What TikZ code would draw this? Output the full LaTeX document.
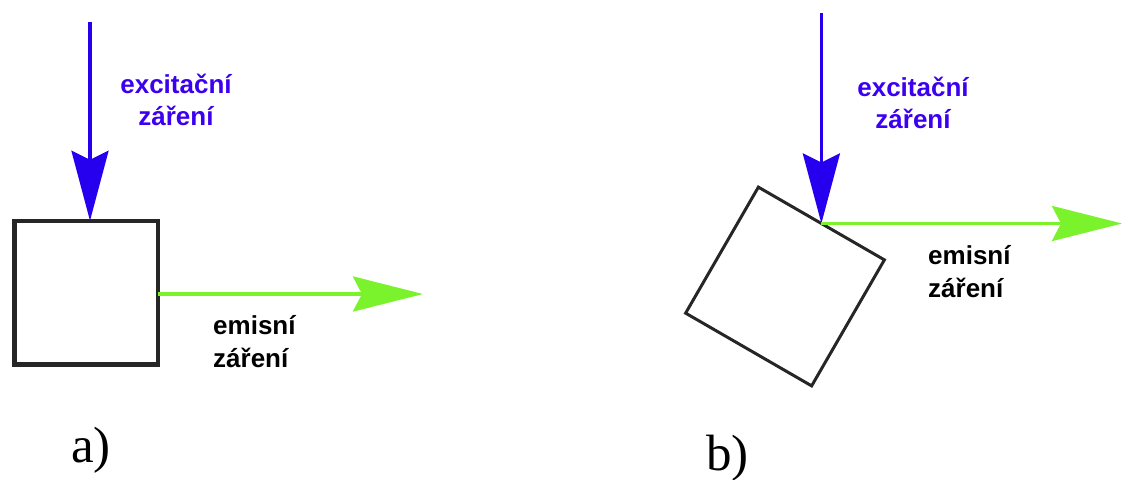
\documentclass[tikz,border=0pt]{standalone}
\usepackage{fontspec}
\setmainfont{Liberation Serif}
\setsansfont{Liberation Sans}
\usetikzlibrary{arrows.meta}
\definecolor{exblue}{RGB}{38,0,238}
\definecolor{extext}{RGB}{60,0,240}
\definecolor{emgreen}{RGB}{122,242,44}
\tikzset{
  sample/.style={draw=black!85, minimum size=#1, inner sep=0pt, outer sep=0pt},
  exarrow/.style={draw=exblue, line width=3.5pt, -{Stealth[length=70pt, width=37pt, inset=9pt]}},
  emarrow/.style={draw=emgreen, line width=3.5pt, -{Stealth[length=70pt, width=35pt, inset=9pt]}},
  exlabel/.style={text=extext, font=\sffamily\bfseries\fontsize{26}{32}\selectfont, align=center, inner sep=0pt, anchor=base},
  emlabel/.style={text=black, font=\sffamily\bfseries\fontsize{26}{33}\selectfont, align=left, inner sep=0pt, anchor=base west},
  panel/.style={font=\fontsize{51}{51}\selectfont, inner sep=0pt, anchor=base west}
}
\begin{document}
\begin{tikzpicture}[x=1pt, y=-1pt]
  \useasboundingbox (0,0) rectangle (1123,479);
  % panel a
  \node[sample=143.5, line width=4.5pt] (boxa) at (86,292.5) {};
  \coordinate (exA) at (90,22);
  \coordinate (emA) at (423,294);
  \draw[exarrow] (exA) -- (exA |- boxa.north);
  \draw[emarrow] (boxa.east |- emA) -- (emA);
  \node[exlabel] (exlabA) at (176,125) {excitační\\záření};
  \node[emlabel] (emlabA) at (213,367) {emisní\\záření};
  \node[panel] (labA) at (71,462) {a)};
  % panel b
  \node[sample=145.5, line width=3pt, rotate=-30] (boxb) at (785,286.5) {};
  \coordinate (exB) at (boxb.north |- 0,13);
  \coordinate (emB) at (1122,220);
  \draw[exarrow] (exB) -- (boxb.north);
  \draw[emarrow] (boxb.north) -- (boxb.north -| emB);
  \node[exlabel] (exlabB) at (913,128) {excitační\\záření};
  \node[emlabel] (emlabB) at (928,297) {emisní\\záření};
  \node[panel] (labB) at (706,470) {b)};
\end{tikzpicture}
\end{document}
